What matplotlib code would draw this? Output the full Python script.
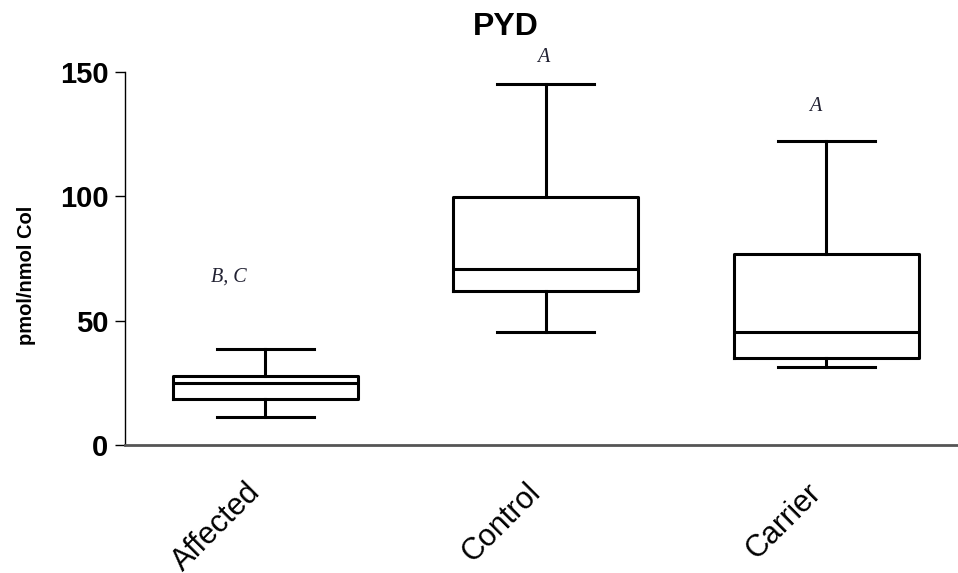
import matplotlib
matplotlib.use("Agg")
import matplotlib.pyplot as plt
from matplotlib.transforms import ScaledTranslation

plt.rcParams['font.family'] = ['Liberation Sans', 'DejaVu Sans']

# groups and box statistics (pmol/nmol Col)
groups = ["Affected", "Control", "Carrier"]
whisker_low = [11.1, 45.4, 31.2]
q1 = [18.6, 61.9, 34.9]
median = [24.8, 70.6, 45.6]
q3 = [27.7, 99.6, 76.7]
whisker_high = [38.6, 145.2, 122.2]

# significance letters and their heights
letters = ["B, C", "A", "A"]
letter_y = [67.5, 156, 136]
letter_dx = [-0.13, -0.01, -0.04]

stats = []
for i, g in enumerate(groups):
    stats.append(dict(label=g, whislo=whisker_low[i], q1=q1[i], med=median[i],
                      q3=q3[i], whishi=whisker_high[i], fliers=[]))

fig = plt.figure(figsize=(9.58, 5.73), dpi=100)
ax = fig.add_axes([125 / 958, 1 - 445 / 573, 1 - 125 / 958, (445 - 72) / 573])

pos = [1, 2, 3]
lw = 2.2
ax.bxp(stats, positions=pos, widths=0.66, capwidths=0.345, showfliers=False,
       boxprops=dict(color='black', linewidth=lw),
       medianprops=dict(color='black', linewidth=lw),
       whiskerprops=dict(color='black', linewidth=lw),
       capprops=dict(color='black', linewidth=lw))

ax.set_xlim(0.5, 3.47)
ax.set_ylim(0, 150)
ax.set_yticks([0, 50, 100, 150])
ax.tick_params(axis='y', direction='out', length=7, width=1, pad=5,
               labelsize=21)
for t in ax.get_yticklabels():
    t.set_fontweight('bold')
ax.tick_params(axis='x', length=0, pad=14)
ax.set_xticks(pos)
ax.set_xticklabels(groups, rotation=45, ha='right', rotation_mode='anchor',
                   fontsize=22)
# nudge the slanted labels left and down like the original
shift = ScaledTranslation(-20 / 100, -13 / 100, fig.dpi_scale_trans)
for t in ax.get_xticklabels():
    t.set_transform(t.get_transform() + shift)

for s in ['top', 'right']:
    ax.spines[s].set_visible(False)
ax.spines['left'].set_linewidth(1)
ax.spines['bottom'].set_linewidth(2)
ax.spines['bottom'].set_color('#555555')

for i, txt in enumerate(letters):
    ax.text(pos[i] + letter_dx[i], letter_y[i], txt, ha='center', va='center',
            fontsize=14.5, style='italic', color='#222233',
            family=['Liberation Serif', 'DejaVu Serif'], clip_on=False)

fig.text(506 / 958, 1 - 27 / 573, "PYD", ha='center', va='center',
         fontsize=23, fontweight='bold')
fig.text(26 / 958, 1 - 275 / 573, "pmol/nmol Col", ha='center', va='center',
         rotation=90, fontsize=14.5, fontweight='bold')

fig.savefig("out.png", dpi=100)
